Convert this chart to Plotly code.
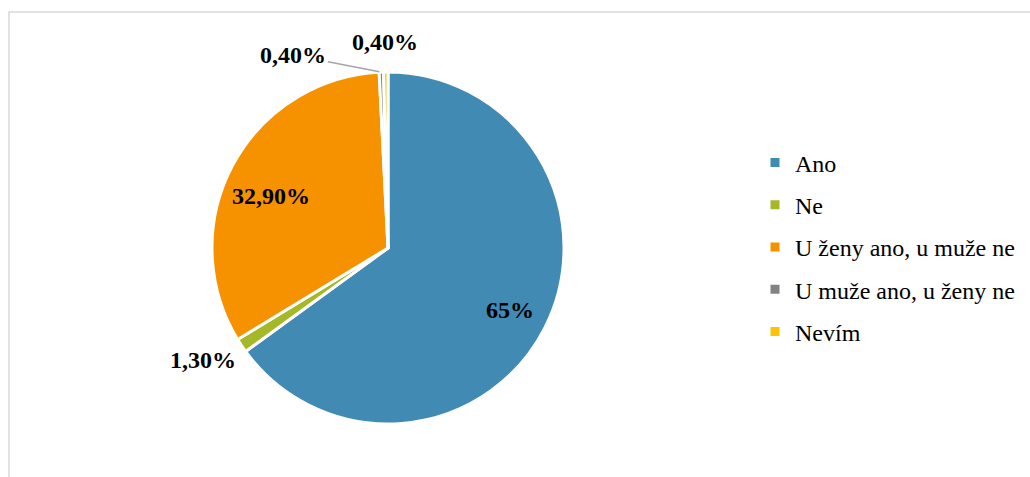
import math
import plotly.graph_objects as go

categories = ["Ano", "Ne", "U ženy ano, u muže ne", "U muže ano, u ženy ne", "Nevím"]
values = [65.0, 1.3, 32.9, 0.4, 0.4]
labels_text = ["65%", "1,30%", "32,90%", "0,40%", "0,40%"]
colors = ["#418AB3", "#A6B727", "#F69200", "#838383", "#FEC306"]

W, H = 1030, 477
CX, CY, R = 388, 248, 176  # pie centre / radius in pixels
SERIF = "Liberation Serif, Times New Roman, serif"

fig = go.Figure()
fig.add_trace(go.Pie(
    labels=categories, values=values, textinfo="none",
    sort=False, direction="clockwise", rotation=0,
    marker=dict(colors=colors, line=dict(color="white", width=3)),
    domain=dict(x=[(CX - R) / W, (CX + R) / W], y=[(H - CY - R) / H, (H - CY + R) / H]),
    showlegend=False, hoverinfo="label+percent",
))
for i, c in enumerate(categories):
    fig.add_trace(go.Scatter(
        x=[None], y=[None], mode="markers", name=c,
        marker=dict(symbol="square", size=9, color=colors[i]),
        legendgroup=f"g{i}", showlegend=True,
    ))

total = sum(values)
cum = 0.0
mids = []
for v in values:
    mids.append((cum + v / 2) / total * 2 * math.pi)
    cum += v


def pos(i, k, da=0.0):
    a = mids[i] + math.radians(da)
    return CX + k * R * math.sin(a), CY - k * R * math.cos(a)


# label style: (radius factor, angle tweak in degrees, leader offset in px or None)
label_style = [(0.78, 0, None), (1.23, 2.5, None), (0.73, -4, None),
               (1.0, 0, (-88, -17)), (1.17, 0, None)]
annotations = []
font = dict(family=SERIF, size=24, color="black", weight="bold")
for i, (k, da, lead) in enumerate(label_style):
    px, py = pos(i, k, da)
    a = dict(x=px / W, y=1 - py / H, xref="paper", yref="paper",
             xanchor="center", yanchor="middle",
             text=labels_text[i], font=font)
    if lead is None:
        a["showarrow"] = False
    else:
        a.update(showarrow=True, arrowhead=0, arrowwidth=1.5, arrowcolor="#A6A6A6",
                 ax=lead[0], ay=lead[1], standoff=2)
    annotations.append(a)

fig.update_layout(
    width=W, height=H,
    margin=dict(l=0, r=0, t=0, b=0),
    paper_bgcolor="white", plot_bgcolor="white",
    font=dict(family=SERIF),
    xaxis=dict(visible=False), yaxis=dict(visible=False),
    legend=dict(x=755 / W, y=(H - 247) / H, xanchor="left", yanchor="middle",
                font=dict(family=SERIF, size=24, color="black"),
                tracegroupgap=8, itemwidth=30),
    annotations=annotations,
    shapes=[dict(type="rect", xref="paper", yref="paper",
                 x0=9 / W, x1=1.05, y0=-0.05, y1=(H - 12) / H,
                 line=dict(color="#D9D9D9", width=1.5), fillcolor="rgba(0,0,0,0)")],
)
fig.write_html("out.html", config={"displayModeBar": False},
               post_script="document.body.style.margin='0';document.body.style.overflow='hidden';")
